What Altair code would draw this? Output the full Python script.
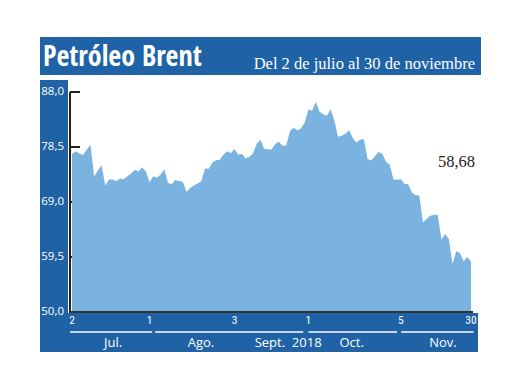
import altair as alt
import pandas as pd

# ---------------- data ----------------
prices = [
    # July (no Jul 4)
    77.30, 77.76, 77.39, 77.11, 78.07, 78.86, 73.40, 74.45, 75.33, 71.84, 72.90,
    72.90, 72.58, 73.07, 72.91, 73.44, 73.93, 74.54, 74.29, 74.97, 74.25,
    # August
    72.39, 73.45, 73.21, 73.75, 74.65, 72.28, 72.07, 72.81, 72.61, 72.46, 70.76,
    71.43, 71.83, 72.21, 72.63, 74.78, 74.73, 75.82, 76.21, 76.31, 77.14, 77.77, 77.42,
    # September
    78.15, 77.17, 77.27, 76.50, 76.83, 77.37, 79.06, 79.74, 78.18, 78.09, 78.05,
    79.03, 79.40, 78.70, 78.80, 81.20, 81.87, 81.34, 81.72, 82.72,
    # October
    84.98, 84.80, 86.29, 84.58, 84.16, 83.91, 85.00, 83.09, 80.26, 80.43, 80.78,
    81.41, 80.05, 79.29, 79.78, 79.83, 76.44, 76.17, 76.89, 77.62, 77.34, 75.91, 75.47,
    # November
    72.89, 72.83, 72.92, 72.13, 72.07, 70.65, 70.18, 70.12, 65.47, 66.12, 66.62,
    66.76, 66.79, 62.53, 63.48, 62.60, 58.30, 60.48, 60.21, 58.76, 59.51, 58.68,
]
dates = [d for d in pd.bdate_range("2018-07-02", "2018-11-30").strftime("%Y-%m-%d")
         if d != "2018-07-04"]

y_ticks = [50.0, 59.5, 69.0, 78.5, 88.0]
y_tick_labels = ["50,0", "59,5", "69,0", "78,5", "88,0"]
tick_dates = ["2018-07-02", "2018-08-01", "2018-09-03", "2018-10-01", "2018-11-05", "2018-11-30"]
tick_labels = ["2", "1", "3", "1", "5", "30"]
month_labels = ["Jul.", "Ago.", "Sept.\u00a0 2018", "Oct.", "Nov."]
month_pos = [11.1, 34.9, 58.5, 75.7, 100.4]
underline_start = [-0.5, 22.5, 64.0, 89.1]
underline_end = [21.7, 62.6, 88.0, 108.7]

title_text = "Petróleo Brent"
subtitle_text = "Del 2 de julio al 30 de noviembre"
last_label = f"{prices[-1]:.2f}".replace(".", ",")

BLUE = "#1f63a6"
AREA = "#7ab3e0"

df = pd.DataFrame({"idx": list(range(len(prices))), "date": dates, "price": prices})
ticks_df = pd.DataFrame({"idx": [dates.index(d) for d in tick_dates], "lab": tick_labels})
months_df = pd.DataFrame({"pos": month_pos, "lab": month_labels})
under_df = pd.DataFrame({"s": underline_start, "e": underline_end})
yt_df = pd.DataFrame({"v": y_ticks, "lab": y_tick_labels})
one = pd.DataFrame({"a": [0]})

xs = alt.Scale(domain=[-0.541, 108.541], nice=False, zero=False)
ys = alt.Scale(domain=[50, 88], nice=False, zero=False)

header = alt.Chart(one).mark_rect(color=BLUE).encode(
    x=alt.value(-30), x2=alt.value(411), y=alt.value(-55), y2=alt.value(-17))
left_strip = alt.Chart(one).mark_rect(color=BLUE).encode(
    x=alt.value(-30), x2=alt.value(-2), y=alt.value(-12), y2=alt.value(260))
bottom_band = alt.Chart(one).mark_rect(color=BLUE).encode(
    x=alt.value(-30), x2=alt.value(408), y=alt.value(221), y2=alt.value(260))

yrules = alt.Chart(yt_df).mark_rule(color="#222222", strokeWidth=2).encode(
    y=alt.Y("v:Q", scale=ys, axis=None), x=alt.value(0), x2=alt.value(10))

area = alt.Chart(df).mark_area(color=AREA, opacity=1).encode(
    x=alt.X("idx:Q", scale=xs, axis=None),
    y=alt.Y("price:Q", scale=ys, axis=None),
    y2=alt.datum(50),
)

# axis lines (drawn over the area)
yline = alt.Chart(one).mark_rule(color="#222222", strokeWidth=2).encode(
    x=alt.value(0), y=alt.value(0), y2=alt.value(221))
xline = alt.Chart(one).mark_rule(color="#333333", strokeWidth=2).encode(
    x=alt.value(0), x2=alt.value(403), y=alt.value(220))

ylabels = alt.Chart(yt_df).mark_text(
    color="white", font="Open Sans", fontSize=11.5, align="right", baseline="middle"
).encode(y=alt.Y("v:Q", scale=ys, axis=None), x=alt.value(-6), text="lab:N")

xtick_text = alt.Chart(ticks_df).mark_text(
    color="white", font="Roboto Condensed", fontWeight="normal", fontSize=11.5,
    baseline="middle"
).encode(x=alt.X("idx:Q", scale=xs, axis=None), y=alt.value(229), text="lab:N")

underlines = alt.Chart(under_df).mark_rule(color="white", strokeWidth=1.5).encode(
    x=alt.X("s:Q", scale=xs, axis=None), x2="e:Q", y=alt.value(240))

months = alt.Chart(months_df).mark_text(
    color="white", font="Open Sans", fontSize=13, baseline="middle"
).encode(x=alt.X("pos:Q", scale=xs, axis=None), y=alt.value(251), text="lab:N")

title = alt.Chart(one).mark_text(
    text=title_text, color="white", font="Open Sans Condensed", fontWeight="bold",
    fontSize=28, align="left", baseline="alphabetic"
).encode(x=alt.value(-27), y=alt.value(-26))

subtitle = alt.Chart(one).mark_text(
    text=subtitle_text, color="white", font="Liberation Serif", fontSize=16.5,
    align="right", baseline="alphabetic"
).encode(x=alt.value(405), y=alt.value(-23))

last = alt.Chart(one).mark_text(
    text=last_label, color="#222222", font="Liberation Serif", fontSize=16.5,
    align="right", baseline="alphabetic"
).encode(x=alt.value(405), y=alt.value(75))

chart = alt.layer(
    header, left_strip, bottom_band, yrules, area, yline, xline, ylabels,
    xtick_text, underlines, months, title, subtitle, last
).properties(
    width=403, height=220,
    autosize=alt.AutoSizeParams(type="none"),
    padding={"left": 62, "top": 84, "right": 39, "bottom": 70},
    background="white",
).configure_view(stroke=None)

chart.save("out.html", embed_options={"renderer": "svg", "actions": False})
